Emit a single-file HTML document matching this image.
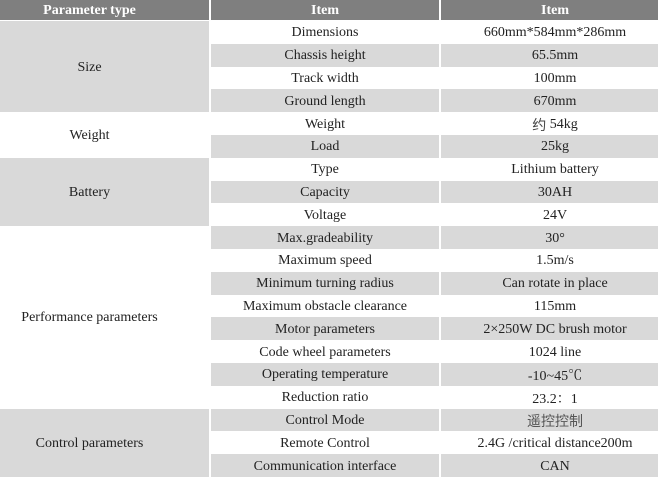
<!DOCTYPE html>
<html>
<head>
<meta charset="utf-8">
<style>
html,body{margin:0;padding:0;background:#fff;}
body{width:658px;height:477px;overflow:hidden;position:relative;font-family:"Liberation Serif","Noto Serif CJK SC",serif;font-size:14px;color:#222;}
.c{position:absolute;display:flex;align-items:center;justify-content:center;white-space:nowrap;box-sizing:border-box;padding-top:2px;}
.h{background:#7f7f7f;color:#fff;font-weight:bold;top:0;height:20px;padding-top:1px;}
.g{background:#d9d9d9;}
.c1{left:0;width:209px;padding-right:30px;}
.c2{left:211px;width:228px;}
.c3{left:441px;width:228px;}
.cjk{font-family:"Liberation Serif","Noto Sans CJK SC",sans-serif;color:#555;}
</style>
</head>
<body>
<div class="c h c1">Parameter type</div>
<div class="c h c2">Item</div>
<div class="c h c3">Item</div>

<div class="c c1 g" style="top:21px;height:91.2px;">Size</div>
<div class="c c1" style="top:112.2px;height:45.6px;">Weight</div>
<div class="c c1 g" style="top:157.8px;height:68.4px;">Battery</div>
<div class="c c1" style="top:226.2px;height:182.4px;">Performance parameters</div>
<div class="c c1 g" style="top:408.6px;height:68.4px;">Control parameters</div>

<div class="c c2" style="top:21px;height:22.8px;">Dimensions</div>
<div class="c c3" style="top:21px;height:22.8px;">660mm*584mm*286mm</div>
<div class="c c2 g" style="top:43.8px;height:22.8px;">Chassis height</div>
<div class="c c3 g" style="top:43.8px;height:22.8px;">65.5mm</div>
<div class="c c2" style="top:66.6px;height:22.8px;">Track width</div>
<div class="c c3" style="top:66.6px;height:22.8px;">100mm</div>
<div class="c c2 g" style="top:89.4px;height:22.8px;">Ground length</div>
<div class="c c3 g" style="top:89.4px;height:22.8px;">670mm</div>
<div class="c c2" style="top:112.2px;height:22.8px;">Weight</div>
<div class="c c3" style="top:112.2px;height:22.8px;"><span class="cjk" style="color:#444">约</span>&nbsp;54kg</div>
<div class="c c2 g" style="top:135px;height:22.8px;">Load</div>
<div class="c c3 g" style="top:135px;height:22.8px;">25kg</div>
<div class="c c2" style="top:157.8px;height:22.8px;">Type</div>
<div class="c c3" style="top:157.8px;height:22.8px;">Lithium battery</div>
<div class="c c2 g" style="top:180.6px;height:22.8px;">Capacity</div>
<div class="c c3 g" style="top:180.6px;height:22.8px;">30AH</div>
<div class="c c2" style="top:203.4px;height:22.8px;">Voltage</div>
<div class="c c3" style="top:203.4px;height:22.8px;">24V</div>
<div class="c c2 g" style="top:226.2px;height:22.8px;">Max.gradeability</div>
<div class="c c3 g" style="top:226.2px;height:22.8px;">30°</div>
<div class="c c2" style="top:249px;height:22.8px;">Maximum speed</div>
<div class="c c3" style="top:249px;height:22.8px;">1.5m/s</div>
<div class="c c2 g" style="top:271.8px;height:22.8px;">Minimum turning radius</div>
<div class="c c3 g" style="top:271.8px;height:22.8px;">Can rotate in place</div>
<div class="c c2" style="top:294.6px;height:22.8px;">Maximum obstacle clearance</div>
<div class="c c3" style="top:294.6px;height:22.8px;">115mm</div>
<div class="c c2 g" style="top:317.4px;height:22.8px;">Motor parameters</div>
<div class="c c3 g" style="top:317.4px;height:22.8px;">2×250W DC brush motor</div>
<div class="c c2" style="top:340.2px;height:22.8px;">Code wheel parameters</div>
<div class="c c3" style="top:340.2px;height:22.8px;">1024 line</div>
<div class="c c2 g" style="top:363px;height:22.8px;">Operating temperature</div>
<div class="c c3 g" style="top:363px;height:22.8px;">-10~45℃</div>
<div class="c c2" style="top:385.8px;height:22.8px;">Reduction ratio</div>
<div class="c c3" style="top:385.8px;height:22.8px;">23.2：1</div>
<div class="c c2 g" style="top:408.6px;height:22.8px;">Control Mode</div>
<div class="c c3 g cjk" style="top:408.6px;height:22.8px;">遥控控制</div>
<div class="c c2" style="top:431.4px;height:22.8px;">Remote Control</div>
<div class="c c3" style="top:431.4px;height:22.8px;">2.4G /critical distance200m</div>
<div class="c c2 g" style="top:454.2px;height:22.8px;">Communication interface</div>
<div class="c c3 g" style="top:454.2px;height:22.8px;">CAN</div>
</body>
</html>
